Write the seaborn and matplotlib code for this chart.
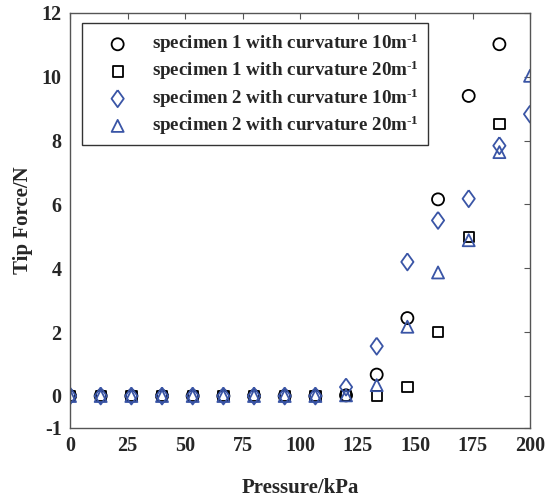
import matplotlib
matplotlib.use("Agg")
import matplotlib.pyplot as plt
import numpy as np
import seaborn as sns

# pressure steps (kPa)
pressure = [0, 13.33, 26.67, 40, 53.33, 66.67, 80, 93.33, 106.67, 120,
            133.33, 146.67, 160, 173.33, 186.67, 200]

# tip force (N)
s1_c10 = [0, 0, 0, 0, 0, 0, 0, 0, 0, 0.02, 0.67, 2.44, 6.16, 9.40, 11.02]
s1_c20 = [0, 0, 0, 0, 0, 0, 0, 0, 0, 0.0, 0.0, 0.29, 2.0, 4.98, 8.52]
s2_c10 = [0, 0, 0, 0, 0, 0, 0, 0, 0, 0.28, 1.56, 4.20, 5.50, 6.18, 7.84, 8.83]
s2_c20 = [0, 0, 0, 0, 0, 0, 0, 0, 0, 0.02, 0.34, 2.17, 3.87, 4.88, 7.64, 10.03]

labels = [r"specimen 1 with curvature 10m$^{\text{-1}}$",
          r"specimen 1 with curvature 20m$^{\text{-1}}$",
          r"specimen 2 with curvature 10m$^{\text{-1}}$",
          r"specimen 2 with curvature 20m$^{\text{-1}}$"]

sns.set_style("white")
plt.rcParams["font.family"] = ["Liberation Serif", "DejaVu Serif"]
plt.rcParams["font.weight"] = "bold"
plt.rcParams["axes.unicode_minus"] = False
plt.rcParams["mathtext.fontset"] = "custom"
plt.rcParams["mathtext.rm"] = "Liberation Serif:bold"
plt.rcParams["mathtext.bf"] = "Liberation Serif:bold"
plt.rcParams["mathtext.default"] = "rm"

blue = "#3a55a6"
diamond = [(0, 1), (0.72, 0), (0, -1), (-0.72, 0), (0, 1)]
series = [
    (s1_c10, "o", "black", 75),
    (s1_c20, "s", "black", 55),
    (s2_c10, diamond, blue, 150),
    (s2_c20, "^", blue, 75),
]

fig = plt.figure(figsize=(5.47, 4.97), dpi=100)
ax = fig.add_axes([0.128, 0.139, 0.841, 0.835])

for (vals, m, col, s), lab in zip(series, labels):
    sns.scatterplot(x=pressure[:len(vals)], y=vals, marker=m, s=s,
                    facecolor="none", edgecolor=col, linewidth=1.3,
                    label=lab, ax=ax)

ax.set_xlim(0, 200)
ax.set_ylim(-1, 12)
ax.set_xticks(np.arange(0, 201, 25))
ax.set_yticks([-1, 0, 2, 4, 6, 8, 10, 12])
ax.tick_params(direction="in", top=True, right=True, length=4,
               labelsize=14.5, pad=6, color="#555555")
for lab in ax.get_xticklabels() + ax.get_yticklabels():
    lab.set_fontweight("bold")
for sp in ax.spines.values():
    sp.set_color("#555555")
    sp.set_linewidth(1.0)

ax.set_xlabel("Pressure/kPa", fontsize=15, fontweight="bold", labelpad=16)
ax.set_ylabel("Tip Force/N", fontsize=15, fontweight="bold", labelpad=6)

leg = ax.legend(loc="upper left", bbox_to_anchor=(0.026, 0.975),
                fontsize=13.7, frameon=True, fancybox=False,
                borderpad=0.45, handlelength=2.85, handletextpad=0.4,
                labelspacing=0.2, borderaxespad=0)
leg.get_frame().set_edgecolor("black")
leg.get_frame().set_linewidth(1.0)
for t in leg.get_texts():
    t.set_fontweight("bold")

fig.savefig("out.png", dpi=100)
